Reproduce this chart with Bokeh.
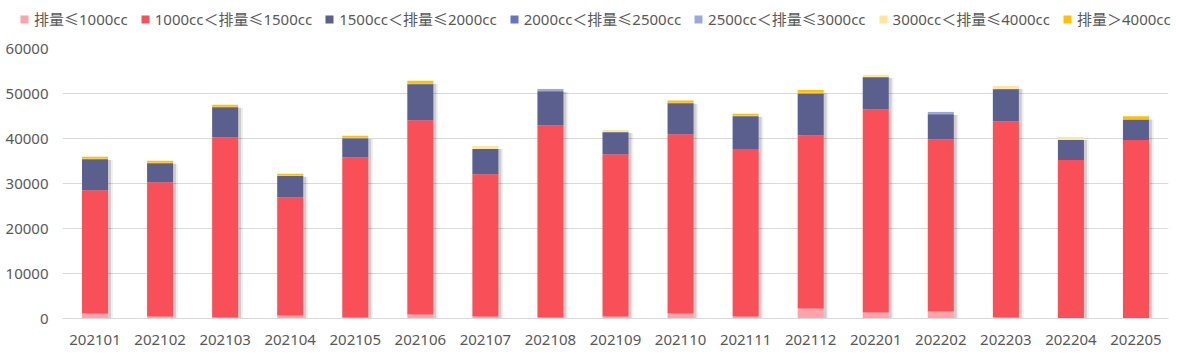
import numpy as np
from bokeh.plotting import figure
from bokeh.models import ColumnDataSource, Legend, LegendItem, FactorRange, FixedTicker, NumeralTickFormatter, Range1d
from bokeh.transform import dodge
from bokeh.embed import file_html
from bokeh.resources import INLINE

months = ["202101", "202102", "202103", "202104", "202105", "202106", "202107", "202108", "202109",
          "202110", "202111", "202112", "202201", "202202", "202203", "202204", "202205"]

series_names = ["排量≤1000cc", "1000cc＜排量≤1500cc", "1500cc＜排量≤2000cc", "2000cc＜排量≤2500cc",
                "2500cc＜排量≤3000cc", "3000cc＜排量≤4000cc", "排量＞4000cc"]

y_ticks = [0, 10000, 20000, 30000, 40000, 50000, 60000]

le1000 = [1100, 450, 220, 670, 220, 890, 450, 220, 450, 1100, 450, 2200, 1350, 1550, 220, 80, 80]
c1000_1500 = [27400, 29850, 40080, 26280, 35630, 43160, 31600, 42730, 36050, 39850, 37200, 38550, 45150, 38300, 43630, 35120, 39570]
c1500_2000 = [6900, 4200, 6650, 4700, 4200, 8000, 5600, 7550, 4900, 6900, 7300, 9150, 7100, 5550, 7100, 4450, 4450]
c2000_2500 = [40, 30, 50, 20, 30, 60, 30, 50, 40, 50, 40, 80, 60, 40, 50, 30, 60]
c2500_3000 = [20, 20, 30, 20, 20, 30, 20, 450, 20, 30, 30, 150, 30, 450, 30, 20, 150]
c3000_4000 = [40, 40, 40, 40, 40, 50, 650, 40, 450, 40, 40, 40, 450, 40, 650, 650, 40]
gt4000 = [450, 450, 450, 450, 450, 650, 0, 0, 0, 450, 450, 600, 0, 0, 0, 0, 600]

colors = ["#FFA3AA", "#F84F58", "#5A5F8E", "#6276C2", "#9CA8D9", "#FFE699", "#FFC000"]
keys = ["s0", "s1", "s2", "s3", "s4", "s5", "s6"]
arrays = [le1000, c1000_1500, c1500_2000, c2000_2500, c2500_3000, c3000_4000, gt4000]

data = {"month": months}
for k, a in zip(keys, arrays):
    data[k] = a
totals = np.sum(np.array(arrays), axis=0)
data["shadow_top"] = list(totals - 700)
source = ColumnDataSource(data)

TEXT = "#595959"
FONT = "'Noto Sans', 'Noto Sans CJK SC', sans-serif"

# ---- legend strip (separate root so its frame spans the full width) ----
lg = figure(width=1186, height=34, x_range=Range1d(0, 1), y_range=Range1d(0, 1),
            output_backend="svg", toolbar_location=None,
            x_axis_location=None, y_axis_location=None,
            min_border_left=0, min_border_right=0, min_border_top=0, min_border_bottom=0)
lg.outline_line_color = None
lg.xgrid.grid_line_color = None
lg.ygrid.grid_line_color = None
offscreen = ColumnDataSource(dict(x=[5], top=[1]))
dummy = [lg.vbar(x="x", top="top", width=0.1, source=offscreen, fill_color=c, line_color=None) for c in colors]
legend = Legend(items=[LegendItem(label=n, renderers=[r]) for n, r in zip(series_names, dummy)],
                orientation="horizontal", location=(19, 5))
legend.label_text_font = FONT
legend.label_text_font_size = "15px"
legend.label_text_color = TEXT
legend.glyph_width = 10
legend.glyph_height = 10
legend.label_standoff = 5
legend.spacing = 12
legend.padding = 0
legend.margin = 0
legend.border_line_color = None
legend.background_fill_alpha = 0
lg.add_layout(legend)

# ---- main chart ----
p = figure(x_range=FactorRange(*months), y_range=Range1d(0, 60000), width=1186, height=325,
           output_backend="svg", toolbar_location=None,
           min_border_left=62, min_border_right=18, min_border_bottom=41, min_border_top=14)
p.x_range.range_padding = 0
p.outline_line_color = None
p.background_fill_color = "white"

# soft shadows
p.vbar(x=dodge("month", 0.065, range=p.x_range), top="shadow_top", width=0.42, source=source,
       fill_color="#000000", fill_alpha=0.06, line_color=None)
p.vbar(x=dodge("month", 0.045, range=p.x_range), top="shadow_top", width=0.4, source=source,
       fill_color="#000000", fill_alpha=0.14, line_color=None)

p.vbar_stack(keys, x="month", width=0.4, color=colors, source=source, line_color=None)

p.yaxis.ticker = FixedTicker(ticks=y_ticks)
p.yaxis.formatter = NumeralTickFormatter(format="0")
p.yaxis.axis_line_color = None
p.yaxis.major_tick_line_color = None
p.yaxis.minor_tick_line_color = None
p.yaxis.major_label_standoff = 8
p.yaxis.major_label_text_font = FONT
p.yaxis.major_label_text_font_size = "15px"
p.yaxis.major_label_text_color = TEXT

p.xaxis.axis_line_color = "#D9D9D9"
p.xaxis.major_tick_line_color = None
p.xaxis.minor_tick_line_color = None
p.xaxis.major_label_standoff = 10
p.xaxis.major_label_text_font = FONT
p.xaxis.major_label_text_font_size = "15px"
p.xaxis.major_label_text_color = TEXT

p.xgrid.grid_line_color = None
p.ygrid.grid_line_color = "#D9D9D9"
p.ygrid.ticker = FixedTicker(ticks=y_ticks)

open("out.html", "w").write(file_html([lg, p], INLINE))
